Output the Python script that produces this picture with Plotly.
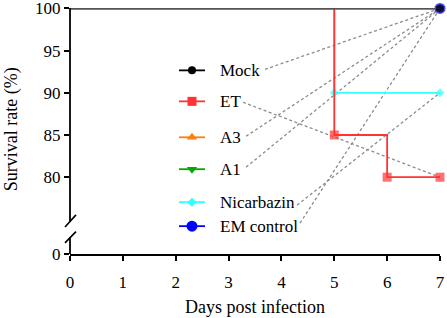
import plotly.graph_objects as go

# ---------------- data ----------------
series_names = ["Mock", "ET", "A3", "A1", "Nicarbazin", "EM control"]
mock_days = [0, 7]
mock_surv = [100, 100]
et_days = [0, 5, 6, 7]
et_surv = [100, 85, 80, 80]
a3_days = [0, 7]
a3_surv = [100, 100]
a1_days = [0, 7]
a1_surv = [100, 100]
nic_days = [0, 5, 7]
nic_surv = [100, 90, 90]
em_days = [0, 7]
em_surv = [100, 100]

x_ticks = [0, 1, 2, 3, 4, 5, 6, 7]
y_ticks = [80, 85, 90, 95, 100]
y_tick_labels = ["80", "85", "90", "95", "100"]
y_break_label = "0"          # label shown at the bottom of the broken y axis

# ---------------- styles / geometry ----------------
FONT = "Liberation Serif"
colors = {"Mock": "#000000", "ET": "#FF3333", "A3": "#FF7F0E", "A1": "#00AA00",
          "Nicarbazin": "#33FFFF", "EM control": "#0000FF"}
symbols = {"Mock": "circle", "ET": "square", "A3": "triangle-up", "A1": "triangle-down",
           "Nicarbazin": "diamond", "EM control": "circle"}
msize = {"Mock": 8, "ET": 9, "A3": 9, "A1": 9, "Nicarbazin": 7, "EM control": 11}

y_top = 100.05
y_bottom = 70.9            # bottom of the plot area stands for the "0" of the broken axis
upper_seg = [0.134, 1.0]   # paper y of the upper axis-line segment
lower_seg = [0.0, 0.069]   # paper y of the lower axis-line segment

fig = go.Figure()

def add_series(name, days, surv, shown_marker_idx, width=1.8, lcolor=None):
    sizes = [msize[name] if i in shown_marker_idx else 0 for i in range(len(days))]
    fig.add_trace(go.Scatter(
        x=days, y=surv, mode="lines+markers", line_shape="hv",
        line=dict(color=lcolor or colors[name], width=width),
        marker=dict(symbol=symbols[name], color=colors[name], size=sizes,
                    line=dict(width=0)),
        cliponaxis=False, showlegend=False, name=name))

add_series("A3", a3_days, a3_surv, [1])
add_series("A1", a1_days, a1_surv, [1])
add_series("Nicarbazin", nic_days, nic_surv, [1, 2])
add_series("ET", et_days, et_surv, [1, 2, 3])
add_series("EM control", em_days, em_surv, [1])
add_series("Mock", mock_days, mock_surv, [1], width=1.5, lcolor="#555555")

# ---------------- manual legend ----------------
leg_y = {"Mock": 92.66, "ET": 88.99, "A3": 84.73, "A1": 80.95,
         "Nicarbazin": 77.04, "EM control": 74.20}
leg_x0, leg_xm, leg_x1, leg_tx = 2.062, 2.308, 2.554, 2.80
for name in series_names:
    yv = leg_y[name]
    fig.add_trace(go.Scatter(
        x=[leg_x0, leg_x1], y=[yv, yv], mode="lines",
        line=dict(color=colors[name], width=1.8),
        showlegend=False, hoverinfo="skip"))
    fig.add_trace(go.Scatter(
        x=[leg_xm], y=[yv], mode="markers",
        marker=dict(symbol=symbols[name], color=colors[name],
                    size=msize[name], line=dict(width=0)),
        showlegend=False, hoverinfo="skip"))
    fig.add_annotation(x=leg_tx, y=yv, text=name, showarrow=False,
                       xanchor="left", yanchor="middle",
                       font=dict(family=FONT, size=17, color="black"))

# leader lines: label end -> last point of each curve
leader_start = {"Mock": (3.689, 92.78), "ET": (3.273, 88.88), "A3": (3.33, 84.85),
                "A1": (3.33, 81.18), "Nicarbazin": (4.295, 76.69), "EM control": (4.351, 74.56)}
leader_end = {"Mock": (mock_days[-1], mock_surv[-1]), "ET": (et_days[-1], et_surv[-1]),
              "A3": (a3_days[-1], a3_surv[-1]), "A1": (a1_days[-1], a1_surv[-1]),
              "Nicarbazin": (nic_days[-1], nic_surv[-1]), "EM control": (em_days[-1], em_surv[-1])}
for name in series_names:
    (xa, ya), (xb, yb) = leader_start[name], leader_end[name]
    fig.add_shape(type="line", xref="x", yref="y", x0=xa, y0=ya, x1=xb, y1=yb,
                  line=dict(color="#8C8C8C", width=1.3, dash="3px,2.5px"), layer="below")

# broken y-axis line segments
for seg in (upper_seg, lower_seg):
    fig.add_shape(type="line", xref="paper", yref="paper", x0=0, x1=0, y0=seg[0], y1=seg[1],
                  line=dict(color="black", width=1.8))
# axis break marks
for (ya, yb) in [(0.110, 0.159), (0.045, 0.091)]:
    fig.add_shape(type="line", xref="paper", yref="paper", x0=-0.0135, y0=ya,
                  x1=0.0162, y1=yb, line=dict(color="black", width=1.6))

# axis titles
fig.add_annotation(x=0.5, y=-0.215, xref="paper", yref="paper", text="Days post infection",
                   showarrow=False, xanchor="center", yanchor="middle",
                   font=dict(family=FONT, size=18, color="black"))
fig.add_annotation(x=-0.159, y=0.508, xref="paper", yref="paper", text="Survival rate (%)",
                   showarrow=False, textangle=-90, xanchor="center", yanchor="middle",
                   font=dict(family=FONT, size=18, color="black"))

tickfont = dict(family=FONT, size=17, color="black")
axis_common = dict(showgrid=False, zeroline=False, linecolor="black",
                   linewidth=1.8, ticks="outside", ticklen=5, tickwidth=1.5,
                   tickcolor="black", tickfont=tickfont, automargin=False,
                   ticklabeloverflow="allow")

fig.update_layout(
    template="none",
    width=447, height=318,
    margin=dict(l=70, r=7, t=8, b=64, autoexpand=False),
    font=dict(family=FONT, size=17, color="black"),
    paper_bgcolor="white", plot_bgcolor="white",
    showlegend=False,
    xaxis=dict(range=[0, 7], tickvals=x_ticks, showline=True,
               ticklabelstandoff=7, **axis_common),
    yaxis=dict(range=[y_bottom, y_top], showline=False,
               tickvals=[y_bottom] + y_ticks, ticktext=[y_break_label] + y_tick_labels,
               **axis_common),
)

fig.write_html("out.html", config={"displayModeBar": False},
               post_script="document.body.style.margin='0';document.body.style.padding='0';")
